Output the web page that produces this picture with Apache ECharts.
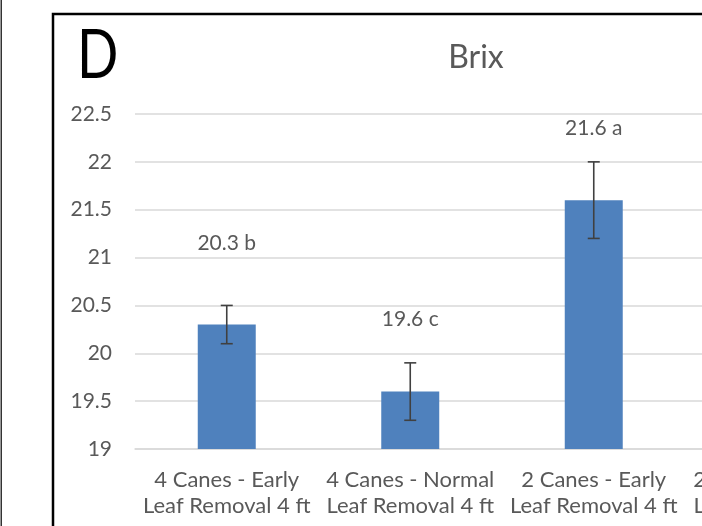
<!DOCTYPE html>
<html><head><meta charset="utf-8">
<script src="https://cdn.jsdelivr.net/npm/echarts@6/dist/echarts.min.js"></script>
<style>html,body{margin:0;padding:0;overflow:hidden;background:#fff;width:702px;height:526px}#c{width:952px;height:526px}</style>
</head><body><div id="c"></div>
<script>
const categories = ["4 Canes - Early\nLeaf Removal 4 ft","4 Canes - Normal\nLeaf Removal 4 ft","2 Canes - Early\nLeaf Removal 4 ft","2 Canes - Normal\nLeaf Removal 4 ft"];
const brix = [20.3, 19.6, 21.6, null];
const errLow = [20.1, 19.3, 21.2, null];
const errHigh = [20.5, 19.9, 22.0, null];
const labelText = ["20.3 b", "19.6 c", "21.6 a", ""];
const labelAt = [21.15, 20.36, 22.35, null];
const yTicks = {min: 19, max: 22.5, interval: 0.5};

const FONT = 'Lato';
const GRAY = '#595959';
const chart = echarts.init(document.getElementById('c'), null, {renderer:'canvas'});
chart.setOption({
  animation:false,
  textStyle:{fontFamily:FONT},
  title:{text:'Brix', left:'center', top:37, textStyle:{fontFamily:FONT, fontSize:32, fontWeight:'normal', color:GRAY}},
  graphic:[
    {type:'rect', shape:{x:0.5,y:-2,width:1.5,height:540}, style:{fill:'#333'}},
    {type:'rect', shape:{x:53,y:14,width:1000,height:600}, style:{fill:'none', stroke:'#000', lineWidth:2.5}},
    {type:'text', x:77, y:22, scaleX:0.8, style:{text:'D', fontFamily:FONT, fontSize:68, fill:'#000'}}
  ],
  grid:{left:135, width:734, top:114, bottom:77, containLabel:false},
  xAxis:{type:'category', data:categories,
    axisLine:{lineStyle:{color:'#d9d9d9', width:1.5}}, axisTick:{show:false},
    axisLabel:{color:GRAY, fontSize:22, fontFamily:FONT, margin:18, lineHeight:26, interval:0}},
  yAxis:{type:'value', min:yTicks.min, max:yTicks.max, interval:yTicks.interval,
    axisLine:{show:false}, axisTick:{show:false},
    splitLine:{lineStyle:{color:'#d9d9d9', width:1.5}},
    axisLabel:{color:GRAY, fontSize:21, fontFamily:FONT, margin:23}},
  series:[
    {type:'bar', data:brix, barWidth:'31.6%', itemStyle:{color:'#4f81bd'}},
    {type:'custom', data:categories.map((c,i)=>[i, errLow[i], errHigh[i]]),
      renderItem:function(params, api){
        if (api.value(1) == null || isNaN(api.value(1))) return null;
        const lo = api.coord([api.value(0), api.value(1)]);
        const hi = api.coord([api.value(0), api.value(2)]);
        const st = {stroke:'#404040', lineWidth:1.6};
        return {type:'group', children:[
          {type:'line', shape:{x1:lo[0],y1:lo[1],x2:hi[0],y2:hi[1]}, style:st},
          {type:'line', shape:{x1:lo[0]-6,y1:lo[1],x2:lo[0]+6,y2:lo[1]}, style:st},
          {type:'line', shape:{x1:hi[0]-6,y1:hi[1],x2:hi[0]+6,y2:hi[1]}, style:st}
        ]};
      }, z:5},
    {type:'custom', data:categories.map((c,i)=>[i, labelAt[i]]),
      renderItem:function(params, api){
        const v = api.value(1);
        if (v == null || isNaN(v)) return null;
        const p = api.coord([api.value(0), v]);
        return {type:'text', x:p[0], y:p[1], style:{text:labelText[params.dataIndex], fontFamily:FONT, fontSize:21, fill:GRAY, align:'center', verticalAlign:'middle'}};
      }, z:6}
  ]
});
</script></body></html>
